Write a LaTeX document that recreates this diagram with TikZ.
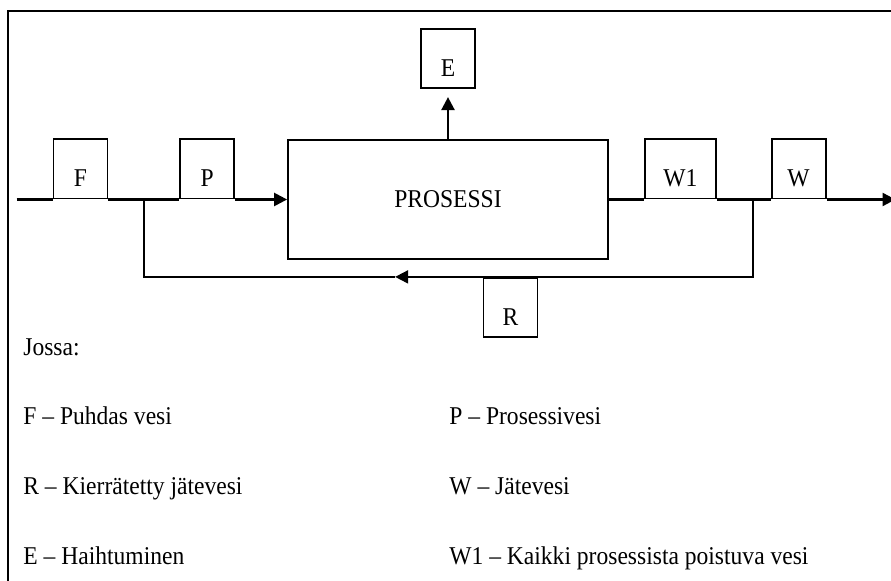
\documentclass[tikz,border=0pt]{standalone}
\usepackage{fontspec}
\setmainfont[FakeStretch=0.92]{Liberation Serif}
\usetikzlibrary{arrows.meta, positioning}

\begin{document}
\begin{tikzpicture}[
    font=\fontsize{12.8}{15}\selectfont,
    box/.style = {
        rectangle, draw=black, line width=0.9pt, fill=white,
        minimum width=27pt, minimum height=29.75pt,
        inner sep=0pt, text height=21pt, text depth=3pt
    },
    process/.style = {
        rectangle, draw=black, line width=0.9pt, fill=white,
        minimum width=160pt, minimum height=59.5pt
    },
    legend/.style = {anchor=base west, inner sep=0pt},
    flow/.style = {line width=1.2pt, black},
    arrow/.style = {-{Triangle[length=6.5pt, width=6.5pt]}, line width=1.2pt, black}
]

\useasboundingbox (0,0) rectangle (445.5pt,-290.5pt);

% Kehys
\draw[line width=1.2pt] (4pt,-5.5pt) rectangle (470pt,-310pt);

% Prosessi
\node[process] (proc) at (224pt,-99.75pt) {PROSESSI};

% Tulopuoli
\node[box, left=26pt of proc.west, anchor=south east] (P) {P};
\node[box, left=35.5pt of P.south west, anchor=south east] (F) {F};
\coordinate[left=18pt of F.south west] (in);
\coordinate[right=18pt of F.south east] (split);

% Lähtöpuoli
\node[box, right=17.5pt of proc.east, anchor=south west,
      minimum width=35.5pt] (W1) {W1};
\node[box, right=27pt of W1.south east, anchor=south west] (W) {W};
\coordinate[right=18pt of W1.south east] (join);
\coordinate[right=34.5pt of W.south east] (out);

% Haihtuminen
\node[box, above=25pt of proc] (E) {E};

% Kierrätys
\node[box, anchor=north] (R)
    at ([xshift=31.25pt, yshift=-8.5pt]proc.south) {R};
\coordinate (back) at ([xshift=54pt, yshift=-8.5pt]proc.south west);

% Virrat
\draw[flow]  (in)         -- (F.south west);
\draw[flow]  (F.south east) -- (P.south west);
\draw[arrow] (P.south east) -- (proc.west);
\draw[flow]  (proc.east)  -- (W1.south west);
\draw[flow]  (W1.south east) -- (W.south west);
\draw[arrow] (W.south east) -- (out);
\draw[arrow, shorten >=4pt] (proc.north) -- (E.south);
\draw[arrow, line width=0.9pt] (join) |- (back);
\draw[flow, line width=0.9pt]  (back) -| (split);

% Selitteet
\node[legend] (jossa) at (11.5pt,-178pt) {Jossa:};
\node[legend] (lF) at ([yshift=-34.5pt]jossa.base west) {F – Puhdas vesi};
\node[legend] (lR) at ([yshift=-35pt]lF.base west) {R – Kierrätetty jätevesi};
\node[legend] (lE) at ([yshift=-35pt]lR.base west) {E – Haihtuminen};
\node[legend] (lP) at ([xshift=213pt]lF.base west) {P – Prosessivesi};
\node[legend] (lW) at ([xshift=213pt]lR.base west) {W – Jätevesi};
\node[legend] (lW1) at ([xshift=213pt]lE.base west) {W1 – Kaikki prosessista poistuva vesi};

\end{tikzpicture}
\end{document}
